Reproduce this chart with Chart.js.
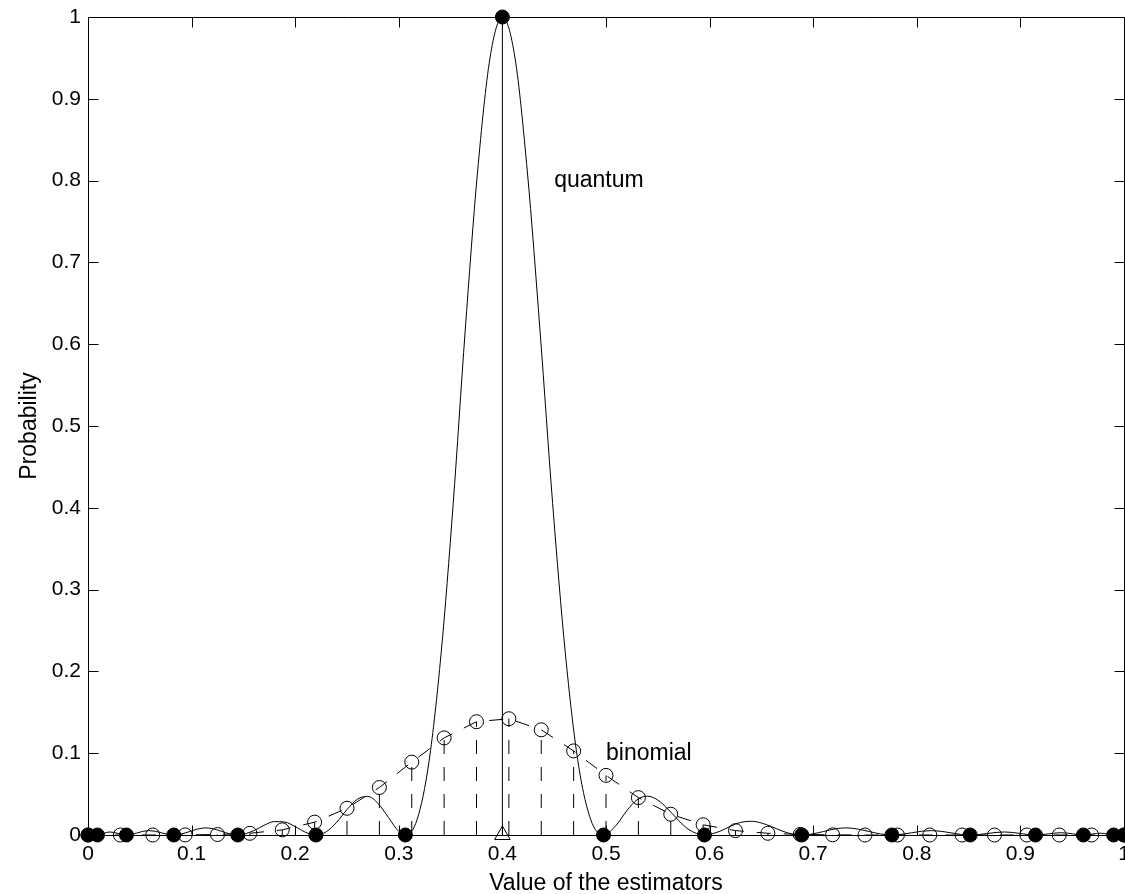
<!DOCTYPE html>
<html lang="en">
<head>
<meta charset="UTF-8">
<title>Probability of the estimators</title>
<script src="https://cdn.jsdelivr.net/npm/chart.js"></script>
<style>
    body { margin: 0; background: #fff; }
    canvas { display: block; }
</style>
</head>
<body>
<canvas id="probChart" width="1125" height="894"></canvas>
<script>
    // axis ticks
    const xTicks = [0, 0.1, 0.2, 0.3, 0.4, 0.5, 0.6, 0.7, 0.8, 0.9, 1];
    const xTickLabels = ['0', '0.1', '0.2', '0.3', '0.4', '0.5', '0.6', '0.7', '0.8', '0.9', '1'];
    const yTicks = [0, 0.1, 0.2, 0.3, 0.4, 0.5, 0.6, 0.7, 0.8, 0.9, 1];
    const yTickLabels = ['0', '0.1', '0.2', '0.3', '0.4', '0.5', '0.6', '0.7', '0.8', '0.9', '1'];

    // binomial estimator: open circles, dashed line + dashed stems
    const binomX = [0, 0.03125, 0.0625, 0.09375, 0.125, 0.15625, 0.1875, 0.21875, 0.25, 0.28125,
                    0.3125, 0.34375, 0.375, 0.40625, 0.4375, 0.46875, 0.5, 0.53125, 0.5625, 0.59375,
                    0.625, 0.65625, 0.6875, 0.71875, 0.75, 0.78125, 0.8125, 0.84375, 0.875, 0.90625,
                    0.9375, 0.96875, 1];
    const binomP = [0, 0, 0, 0.0001, 0.0006, 0.0021, 0.0063, 0.0157, 0.0327, 0.0581,
                    0.0891, 0.1187, 0.1385, 0.1421, 0.1286, 0.1028, 0.0729, 0.0457, 0.0254, 0.0125,
                    0.0054, 0.0021, 0.0007, 0.0002, 0, 0, 0, 0, 0, 0,
                    0, 0, 0];

    // quantum estimator: filled dots
    const quantX = [0, 0.0091, 0.0371, 0.0828, 0.1446, 0.2200, 0.3063, 0.4000, 0.4976,
                    0.5950, 0.6890, 0.7760, 0.8515, 0.9146, 0.9608, 0.9900, 1];
    const quantP = [0, 0, 0, 0, 0, 0, 0, 1, 0, 0, 0, 0, 0, 0, 0, 0, 0];

    // quantum probability curve (solid)
    const curveX = [0, 0.0022, 0.0091, 0.0208, 0.0371, 0.0588, 0.0828, 0.1138, 0.1446,
                    0.16, 0.17, 0.18, 0.19, 0.20, 0.21, 0.22,
                    0.23, 0.24, 0.25, 0.26, 0.27, 0.28, 0.29, 0.30, 0.3063,
                    0.3178, 0.3292, 0.3408, 0.3525, 0.3640, 0.3760, 0.3880, 0.4000,
                    0.4122, 0.4241, 0.4364, 0.4485, 0.4608, 0.4729, 0.4851, 0.4976,
                    0.51, 0.52, 0.53, 0.54, 0.55, 0.56, 0.57, 0.58, 0.5950,
                    0.61, 0.62, 0.63, 0.64, 0.65, 0.66, 0.67, 0.68, 0.6890,
                    0.7313, 0.7760, 0.8141, 0.8515, 0.8848, 0.9146, 0.9396, 0.9608,
                    0.9777, 0.9900, 0.9975, 1];
    const curveP = [0, 0.0028, 0, 0.0037, 0, 0.0054, 0, 0.0087, 0,
                    0.0053, 0.0119, 0.0164, 0.0158, 0.0103, 0.0033, 0,
                    0.0040, 0.0155, 0.0311, 0.0437, 0.0472, 0.0386, 0.0214, 0.0043, 0,
                    0.0194, 0.0901, 0.2215, 0.4050, 0.6150, 0.8106, 0.9497, 1,
                    0.9497, 0.8106, 0.6150, 0.4050, 0.2215, 0.0901, 0.0194, 0,
                    0.0122, 0.0296, 0.0431, 0.0475, 0.0427, 0.0314, 0.0179, 0.0066, 0,
                    0.0046, 0.0106, 0.0154, 0.0168, 0.0147, 0.0101, 0.0049, 0.0011, 0,
                    0.0087, 0, 0.0054, 0, 0.0037, 0, 0.0028, 0,
                    0.0022, 0, 0.0018, 0];

    const trueValue = 0.4;

    const notes = [
        { text: 'quantum', x: 0.45, y: 0.8 },
        { text: 'binomial', x: 0.5, y: 0.1 }
    ];

    const FONT = '"Liberation Sans", Arial, Helvetica, sans-serif';
    Chart.defaults.font.family = FONT;
    Chart.defaults.color = '#000';

    // box with inward ticks on all four sides
    const framePlugin = {
        id: 'frame',
        beforeDatasetsDraw(chart) {
            const { ctx, chartArea: a, scales: { x, y } } = chart;
            const L = Math.round(a.left) + 0.5, R = Math.round(a.right) + 0.5;
            const T = Math.round(a.top) + 0.5, B = Math.round(a.bottom) + 0.5;
            const len = 10;
            ctx.save();
            ctx.strokeStyle = '#000';
            ctx.lineWidth = 1;
            ctx.beginPath();
            ctx.rect(L, T, R - L, B - T);
            xTicks.forEach(v => {
                const px = Math.round(x.getPixelForValue(v)) + 0.5;
                ctx.moveTo(px, B); ctx.lineTo(px, B - len);
                ctx.moveTo(px, T); ctx.lineTo(px, T + len);
            });
            yTicks.forEach(v => {
                const py = Math.round(y.getPixelForValue(v)) + 0.5;
                ctx.moveTo(L, py); ctx.lineTo(L + len, py);
                ctx.moveTo(R, py); ctx.lineTo(R - len, py);
            });
            ctx.stroke();
            ctx.restore();
        }
    };

    const notesPlugin = {
        id: 'notes',
        afterDatasetsDraw(chart) {
            const { ctx, scales: { x, y } } = chart;
            ctx.save();
            ctx.fillStyle = '#000';
            ctx.font = '23px ' + FONT;
            ctx.textAlign = 'left';
            ctx.textBaseline = 'middle';
            notes.forEach(n => ctx.fillText(n.text, x.getPixelForValue(n.x), y.getPixelForValue(n.y)));
            ctx.restore();
        }
    };

    const stems = binomX.flatMap((x, i) => [{ x: x, y: 0 }, { x: x, y: binomP[i] }, { x: x, y: null }]);

    new Chart(document.getElementById('probChart').getContext('2d'), {
        type: 'line',
        data: {
            datasets: [
                {   // quantum estimator values
                    data: quantX.map((x, i) => ({ x: x, y: quantP[i] })),
                    showLine: false,
                    pointStyle: 'circle',
                    pointRadius: 7,
                    pointBorderWidth: 1,
                    pointBackgroundColor: '#000',
                    pointBorderColor: '#000',
                    clip: false
                },
                {   // true value
                    data: [{ x: trueValue, y: 0 }],
                    showLine: false,
                    pointStyle: 'triangle',
                    pointRadius: 9,
                    pointBorderWidth: 1,
                    pointBackgroundColor: 'rgba(0,0,0,0)',
                    pointBorderColor: '#000',
                    clip: false
                },
                {   // binomial
                    data: binomX.map((x, i) => ({ x: x, y: binomP[i] })),
                    borderColor: '#000',
                    borderWidth: 1,
                    borderDash: [14, 13],
                    pointStyle: 'circle',
                    pointRadius: 7,
                    pointBorderWidth: 1,
                    pointBackgroundColor: 'rgba(0,0,0,0)',
                    pointBorderColor: '#000',
                    clip: false
                },
                {   // binomial stems
                    data: stems,
                    borderColor: '#000',
                    borderWidth: 1,
                    borderDash: [14, 13],
                    pointRadius: 0,
                    spanGaps: false,
                    clip: false
                },
                {   // quantum curve
                    data: curveX.map((x, i) => ({ x: x, y: curveP[i] })),
                    borderColor: '#000',
                    borderWidth: 1,
                    pointRadius: 0,
                    cubicInterpolationMode: 'monotone',
                    clip: false
                },
                {   // vertical line at the true value
                    data: [{ x: trueValue, y: 0 }, { x: trueValue, y: 1 }],
                    borderColor: '#000',
                    borderWidth: 1,
                    pointRadius: 0
                }
            ]
        },
        options: {
            responsive: false,
            animation: false,
            events: [],
            layout: { autoPadding: false, padding: { top: 17, right: 1, left: 0, bottom: 0 } },
            plugins: {
                legend: { display: false },
                tooltip: { enabled: false }
            },
            scales: {
                x: {
                    type: 'linear',
                    min: 0,
                    max: 1,
                    grid: { display: false, drawTicks: false },
                    border: { display: false },
                    ticks: {
                        autoSkip: false,
                        maxRotation: 0,
                        padding: 7,
                        font: { size: 21 },
                        callback: (v, i) => xTickLabels[i]
                    },
                    afterBuildTicks: s => { s.ticks = xTicks.map(v => ({ value: v })); },
                    afterFit: s => { s.height = 59; s.paddingLeft = 0; s.paddingRight = 0; },
                    title: {
                        display: true,
                        text: 'Value of the estimators',
                        font: { size: 23, lineHeight: 1 },
                        padding: { top: 0, bottom: -1.5 }
                    }
                },
                y: {
                    type: 'linear',
                    min: 0,
                    max: 1,
                    grid: { display: false, drawTicks: false },
                    border: { display: false },
                    ticks: {
                        padding: 7,
                        font: { size: 21 },
                        callback: (v, i) => yTickLabels[i]
                    },
                    afterBuildTicks: s => { s.ticks = yTicks.map(v => ({ value: v })); },
                    afterFit: s => { s.width = 88; s.paddingTop = 0; s.paddingBottom = 0; },
                    title: {
                        display: true,
                        text: 'Probability',
                        font: { size: 23, lineHeight: 1 },
                        padding: { top: 18, bottom: 0 }
                    }
                }
            }
        },
        plugins: [framePlugin, notesPlugin]
    });
</script>
</body>
</html>
